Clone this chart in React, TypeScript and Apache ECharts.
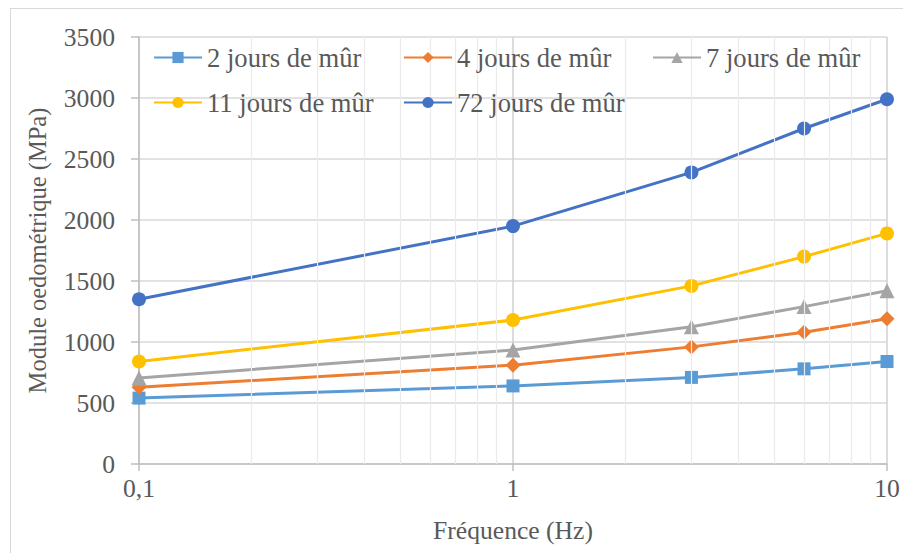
import React, { useEffect, useRef } from "react";
import * as echarts from "echarts";

const frequencies = [0.1, 1, 3, 6, 10];
const seriesNames = [
  "2 jours de mûr",
  "4 jours de mûr",
  "7 jours de mûr",
  "11 jours de mûr",
  "72 jours de mûr",
];
const jours2 = [540, 640, 710, 780, 840];
const jours4 = [630, 810, 960, 1080, 1190];
const jours7 = [705, 935, 1125, 1290, 1420];
const jours11 = [840, 1180, 1460, 1700, 1890];
const jours72 = [1350, 1950, 2390, 2750, 2990];
const colors = ["#5B9BD5", "#ED7D31", "#A5A5A5", "#FFC000", "#4472C4"];
const symbols = ["rect", "diamond", "triangle", "circle", "circle"];
const symbolSizes = [13, 15, 15, 14, 14];
const minorGrid = [0.2, 0.3, 0.4, 0.5, 0.6, 0.7, 0.8, 0.9, 2, 3, 4, 5, 6, 7, 8, 9];
const yTicks = { min: 0, max: 3500, interval: 500 };

const FONT = "Liberation Serif";
const TXT = "#595959";

export default function App() {
  const ref = useRef<HTMLDivElement>(null);
  useEffect(() => {
    document.body.style.margin = "0";
    const chart = echarts.init(ref.current!, null, { renderer: "svg" });
    const allData = [jours2, jours4, jours7, jours11, jours72];
    const legendPos = [
      { left: 153, top: 44 },
      { left: 403, top: 44 },
      { left: 652, top: 44 },
      { left: 153, top: 89 },
      { left: 403, top: 89 },
    ];
    chart.setOption({
      animation: false,
      textStyle: { fontFamily: FONT },
      grid: { left: 139, right: 16, top: 37, bottom: 89, containLabel: false },
      legend: seriesNames.map((n, i) => ({
        data: [n],
        z: 10,
        left: legendPos[i].left,
        top: legendPos[i].top,
        padding: 0,
        itemWidth: 48,
        itemHeight: 14,
        itemGap: 0,
        itemStyle: { borderWidth: 0 },
        textStyle: { fontFamily: FONT, fontSize: 26.6, color: TXT },
        selectedMode: false,
      })),
      xAxis: {
        type: "log",
        logBase: 10,
        min: 0.1,
        max: 10,
        name: "Fréquence (Hz)",
        nameLocation: "middle",
        nameGap: 53,
        nameTextStyle: { fontFamily: FONT, fontSize: 25.6, color: TXT },
        axisLine: { show: true, lineStyle: { color: "#bfbfbf", width: 1.5 } },
        axisTick: { show: true, length: 7, lineStyle: { color: "#bfbfbf", width: 1.5 } },
        axisLabel: {
          fontFamily: FONT,
          fontSize: 25.6,
          color: TXT,
          margin: 11,
          formatter: (v: number) => String(Math.round(v * 1000) / 1000).replace(".", ","),
        },
        splitLine: { show: true, lineStyle: { color: "#d0d0d0", width: 1.5 } },
      },
      yAxis: {
        type: "value",
        min: yTicks.min,
        max: yTicks.max,
        interval: yTicks.interval,
        name: "Module oedométrique (MPa)",
        nameLocation: "middle",
        nameGap: 89,
        nameTextStyle: { fontFamily: FONT, fontSize: 24.5, color: TXT },
        axisLine: { show: true, lineStyle: { color: "#bfbfbf", width: 1.5 } },
        axisTick: { show: true, length: 8, lineStyle: { color: "#bfbfbf", width: 1.5 } },
        axisLabel: {
          fontFamily: FONT,
          fontSize: 25.6,
          color: TXT,
          margin: 24,
          formatter: (v: number) => String(v),
        },
        splitLine: { show: true, lineStyle: { color: "#d9d9d9", width: 1.5 } },
      },
      series: [
        {
          type: "line",
          name: "_minor",
          data: [],
          z: 1,
          silent: true,
          markLine: {
            silent: true,
            symbol: ["none", "none"],
            label: { show: false },
            lineStyle: { color: "#ebebeb", width: 1.2, type: "solid" },
            data: minorGrid.map((v) => ({ xAxis: v })),
          },
        },
        ...seriesNames.map((n, i) => ({
          type: "line",
          name: n,
          z: 3,
          data: frequencies.map((f, j) => [f, allData[i][j]]),
          symbol: symbols[i],
          symbolSize: symbolSizes[i],
          showAllSymbol: true,
          lineStyle: { color: colors[i], width: 3 },
          itemStyle: { color: colors[i], borderWidth: 0 },
        })),
      ],
    });
    return () => chart.dispose();
  }, []);
  return (
    <div style={{ width: 903, height: 553, position: "relative", background: "#fff" }}>
      <div
        style={{
          position: "absolute",
          left: 10,
          top: 8,
          width: 900,
          height: 560,
          border: "1.5px solid #d9d9d9",
          boxSizing: "border-box",
        }}
      />
      <div ref={ref} style={{ position: "absolute", left: 0, top: 0, width: 903, height: 553 }} />
    </div>
  );
}
